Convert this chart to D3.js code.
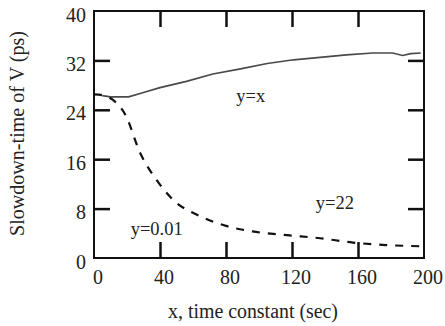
<!DOCTYPE html>
<html>
<head>
<meta charset="utf-8">
<script src="https://cdn.jsdelivr.net/npm/d3@7"></script>
<style>
  body { margin: 0; background: #fff; }
  text { font-family: "Liberation Serif", "Times New Roman", serif; fill: #222; }
</style>
</head>
<body>
<div id="vis"></div>
<script>
const W = 445, H = 326;
const margin = { top: 11, right: 21, bottom: 68, left: 94 };
const width = W - margin.left - margin.right;
const height = H - margin.top - margin.bottom;

// data
const xTicks = [0, 40, 80, 120, 160, 200];
const yTicks = [0, 8, 16, 24, 32, 40];

// y = x curve (solid)
const solidX = [5, 10, 21, 30, 40, 56, 72, 88, 105, 121, 137, 153, 169, 181, 187, 192, 198];
const solidY = [26.3, 26.1, 26.1, 26.8, 27.6, 28.6, 29.8, 30.6, 31.5, 32.1, 32.5, 32.9, 33.2, 33.2, 32.8, 33.1, 33.2];

// y = 0.01 curve (dashed)
const dashX = [0, 6, 11.5, 19, 28, 38, 48, 64, 80, 96, 117, 137, 157, 177, 198];
const dashY = [26.5, 26.3, 25.6, 23.2, 17, 12.6, 9.4, 6.8, 5.2, 4.3, 3.7, 3.2, 2.5, 2.1, 1.9];

const labels = [
  { text: 'y=x', x: 95, y: 25.2 },
  { text: 'y=22', x: 146, y: 8.0 },
  { text: 'y=0.01', x: 38, y: 3.7 }
];

const svg = d3.select('#vis')
  .append('svg')
  .attr('width', W)
  .attr('height', H)
  .append('g')
  .attr('transform', `translate(${margin.left},${margin.top})`);

const xScale = d3.scaleLinear().domain([0, 200]).range([0, width]);
const yScale = d3.scaleLinear().domain([0, 40]).range([height, 0]);

const tickLen = 16;
const innerX = xTicks.slice(1, -1);
const innerY = yTicks.slice(1, -1);

// tick labels
svg.selectAll('.xlab')
  .data(xTicks)
  .join('text')
  .attr('class', 'xlab')
  .attr('x', d => xScale(d) + 4)
  .attr('y', height + 26)
  .attr('text-anchor', 'middle')
  .style('font-size', '20px')
  .text(d => d);

svg.selectAll('.ylab')
  .data(yTicks)
  .join('text')
  .attr('class', 'ylab')
  .attr('x', -8)
  .attr('y', d => yScale(d) + 10.5)
  .attr('text-anchor', 'end')
  .style('font-size', '20px')
  .text(d => d);

// curves
const lineGen = d3.line()
  .x(d => xScale(d[0]))
  .y(d => yScale(d[1]));

svg.append('path')
  .datum(solidX.map((x, i) => [x, solidY[i]]))
  .attr('d', lineGen)
  .attr('fill', 'none')
  .attr('stroke', '#4a4a4a')
  .attr('stroke-width', 1.7);

svg.append('path')
  .datum(dashX.map((x, i) => [x, dashY[i]]))
  .attr('d', lineGen.curve(d3.curveMonotoneX))
  .attr('fill', 'none')
  .attr('stroke', '#111')
  .attr('stroke-width', 2.2)
  .attr('stroke-dasharray', '8,8');

// curve labels
svg.selectAll('.ann')
  .data(labels)
  .join('text')
  .attr('class', 'ann')
  .attr('x', d => xScale(d.x))
  .attr('y', d => yScale(d.y))
  .attr('text-anchor', 'middle')
  .style('font-size', '18.5px')
  .text(d => d.text);

// axis titles
svg.append('text')
  .attr('x', width / 2 - 6)
  .attr('y', height + 60)
  .attr('text-anchor', 'middle')
  .attr('textLength', 170)
  .attr('lengthAdjust', 'spacingAndGlyphs')
  .style('font-size', '20px')
  .text('x, time constant (sec)');

svg.append('text')
  .attr('transform', 'rotate(-90)')
  .attr('x', -(yScale(20)) + 1)
  .attr('y', -70)
  .attr('text-anchor', 'middle')
  .attr('textLength', 205)
  .attr('lengthAdjust', 'spacingAndGlyphs')
  .style('font-size', '20px')
  .text('Slowdown-time of V (ps)');

// frame, drawn last
svg.append('rect')
  .attr('x', 0).attr('y', 0)
  .attr('width', width).attr('height', height)
  .attr('fill', 'none')
  .attr('stroke', '#111')
  .attr('stroke-width', 2);

// inward ticks on all four sides with d3 axes, drawn last
const frameAxes = [
  [d3.axisBottom(xScale).tickValues(innerX), `translate(0,${height})`],
  [d3.axisTop(xScale).tickValues(innerX), 'translate(0,0)'],
  [d3.axisLeft(yScale).tickValues(innerY), 'translate(0,0)'],
  [d3.axisRight(yScale).tickValues(innerY), `translate(${width},0)`]
];
frameAxes.forEach(([ax, tr]) => {
  const g = svg.append('g')
    .attr('transform', tr)
    .call(ax.tickSizeInner(-tickLen).tickSizeOuter(0).tickFormat(() => ''));
  g.select('.domain').remove();
  g.selectAll('.tick line')
    .attr('stroke', '#111')
    .attr('stroke-width', 2.5);
});
</script>
</body>
</html>
